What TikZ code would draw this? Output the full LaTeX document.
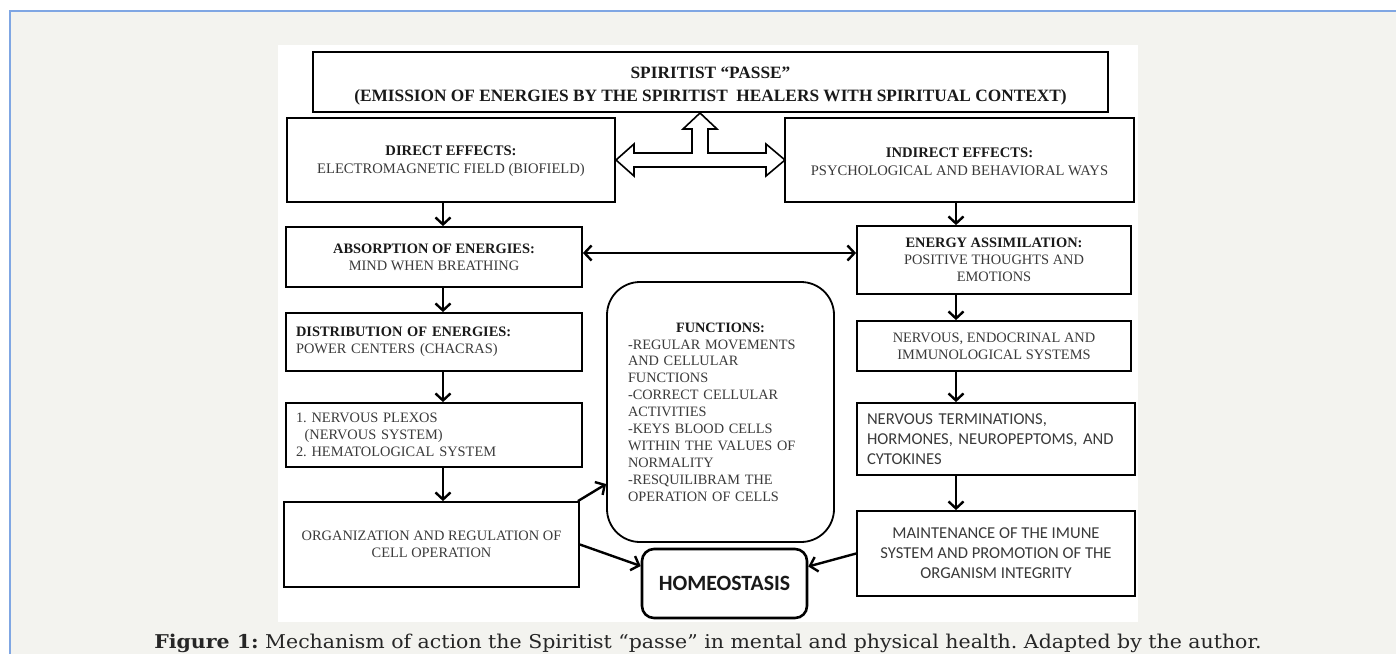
\documentclass[tikz,border=0pt]{standalone}
\usepackage{fontspec}
\setmainfont{Liberation Serif}
\newfontfamily\calibri{Carlito}
\newfontfamily\capfont{DejaVu Serif}
\usetikzlibrary{arrows.meta,calc}
\definecolor{bg}{HTML}{F3F3EF}
\definecolor{frameblue}{HTML}{7FA6E3}
\definecolor{txt}{HTML}{3A3A3A}
\frenchspacing
\begin{document}
\begin{tikzpicture}[x=1pt,y=-1pt,
  bx/.style={draw=black, line width=1.8pt, fill=white, inner sep=0pt, text=txt,
    font=\fontsize{14.4}{17}\selectfont, align=center},
  topfont/.style={font=\fontsize{14.6}{18}\selectfont},
  sansbox/.style={font=\calibri\fontsize{16.6}{20}\selectfont},
  arr/.style={line width=2.4pt, -{Straight Barb[length=7pt,width=15pt]}},
  arrboth/.style={line width=2.4pt, {Straight Barb[length=7pt,width=15pt]}-{Straight Barb[length=7pt,width=15pt]}}
]
\useasboundingbox (0,0) rectangle (1396,654);
\fill[white] (0,0) rectangle (1396,654);
\fill[bg] (10,11) rectangle (1396,654);
\draw[frameblue, line width=1.3pt] (10,654) -- (10,11) -- (1396,11);
\fill[white] (278,45) rectangle (1138,622);

% top box
\node[bx, minimum width=795pt, minimum height=60pt, font=\bfseries\fontsize{17.3}{23}\selectfont, text=black!90] (top) at (710.5,82)
  {\rule{0pt}{20pt}SPIRITIST “PASSE”\\(EMISSION OF ENERGIES BY THE SPIRITIST\ \ HEALERS WITH SPIRITUAL CONTEXT)};

\node[bx, topfont, minimum width=328pt, minimum height=84pt] (dir) at (451,160)
  {\rule{0pt}{13pt}\textbf{\color{black!90}DIRECT EFFECTS:}\\ELECTROMAGNETIC FIELD (BIOFIELD)};
\node[bx, topfont, minimum width=349pt, minimum height=84pt] (ind) at (959.5,160)
  {\rule{0pt}{13pt}\textbf{\color{black!90}INDIRECT EFFECTS:}\\PSYCHOLOGICAL AND BEHAVIORAL WAYS};

% hollow T arrow
\draw[line width=1.6pt, fill=white, line join=miter]
  (616,160) -- (634,144) -- (634,153) -- (692,153) -- (692,129) -- (683,129) -- (700,113)
  -- (717,129) -- (708,129) -- (708,153) -- (766,153) -- (766,144) -- (785,160)
  -- (766,176) -- (766,167) -- (634,167) -- (634,176) -- cycle;

% left column
\node[bx, minimum width=296pt, minimum height=60pt] (abs) at (434,257)
  {\textbf{\color{black!90}ABSORPTION OF ENERGIES:}\\MIND WHEN BREATHING};
\node[bx, minimum width=296pt, minimum height=58pt, text width=276pt, align=left] (dis) at (434,342)
  {\textbf{\color{black!90}DISTRIBUTION OF ENERGIES:}\\POWER CENTERS (CHACRAS)};
\node[bx, minimum width=296pt, minimum height=64pt, text width=276pt, align=left] (plx) at (434,435)
  {1. NERVOUS PLEXOS\\\hspace*{0.6em}(NERVOUS SYSTEM)\\2. HEMATOLOGICAL SYSTEM};
\node[bx, minimum width=295pt, minimum height=85pt] (org) at (431.5,544.5)
  {ORGANIZATION AND REGULATION OF\\CELL OPERATION};

% right column
\node[bx, minimum width=274pt, minimum height=68pt] (en) at (994,260)
  {\textbf{\color{black!90}ENERGY ASSIMILATION:}\\POSITIVE THOUGHTS AND\\EMOTIONS};
\node[bx, minimum width=274pt, minimum height=50pt] (neu) at (994,346)
  {NERVOUS, ENDOCRINAL AND\\IMMUNOLOGICAL SYSTEMS};
\node[bx, sansbox, minimum width=278pt, minimum height=72pt, text width=258pt, align=left] (ter) at (996,439)
  {NERVOUS TERMINATIONS,\\HORMONES, NEUROPEPTOMS, AND\\CYTOKINES};
\node[bx, sansbox, minimum width=278pt, minimum height=85pt] (mnt) at (996,553.5)
  {MAINTENANCE OF THE IMUNE\\SYSTEM AND PROMOTION OF THE\\ORGANISM INTEGRITY};

% centre
\node[bx, rounded corners=33pt, minimum width=227pt, minimum height=260pt, text width=185pt, align=left,
  font=\fontsize{14.3}{16.9}\selectfont] (fun) at (720.5,412)
  {\hfill\textbf{\color{black!90}FUNCTIONS:}\hfill\null\\-REGULAR MOVEMENTS\\AND CELLULAR\\FUNCTIONS\\-CORRECT CELLULAR\\ACTIVITIES\\-KEYS BLOOD CELLS\\WITHIN THE VALUES OF\\NORMALITY\\-RESQUILIBRAM THE\\OPERATION OF CELLS};
\node[draw=black, line width=2.6pt, rounded corners=12pt, fill=white, minimum width=165pt, minimum height=69pt,
  font=\calibri\bfseries\fontsize{21.8}{24}\selectfont, text=black!90] (hom) at (724.5,583.5) {HOMEOSTASIS};

% connectors
\draw[arr] (dir.south -| 443,0) -- (abs.north -| 443,0);
\draw[arr] (abs.south -| 443,0) -- (dis.north -| 443,0);
\draw[arr] (dis.south -| 443,0) -- (plx.north -| 443,0);
\draw[arr] (plx.south -| 443,0) -- (org.north -| 443,0);
\draw[arr] (ind.south -| 956,0) -- (en.north -| 956,0);
\draw[arr] (en.south -| 956,0) -- (neu.north -| 956,0);
\draw[arr] (neu.south -| 956,0) -- (ter.north -| 956,0);
\draw[arr] (ter.south -| 956,0) -- (mnt.north -| 956,0);
\draw[arrboth] (abs.east |- 0,253) -- (en.west |- 0,253);
\draw[arr] ([xshift=-2pt]org.north east) -- ([yshift=-72pt]fun.west);
\draw[arr] (org.east) -- ([yshift=17.5pt]hom.west);
\draw[arr] (mnt.west) -- ([yshift=17pt]hom.east);

% caption
\node[anchor=base, font=\capfont\fontsize{19}{21}\selectfont, text=black!85, inner sep=0pt] (cap) at (708,648)
  {\scalebox{1.078}[1]{\textbf{Figure 1:} Mechanism of action the Spiritist “passe” in mental and physical health. Adapted by the author.}};
\end{tikzpicture}
\end{document}
